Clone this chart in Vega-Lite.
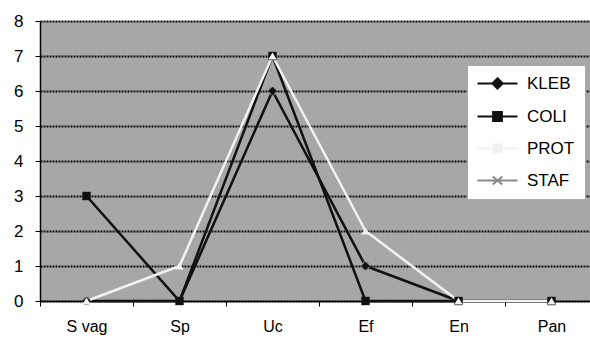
{
  "$schema": "https://vega.github.io/schema/vega-lite/v6.json",
  "width": 550,
  "height": 280,
  "autosize": "none",
  "padding": {"left": 40, "top": 21, "right": 0, "bottom": 43},
  "background": "white",
  "config": {
    "view": {"fill": "#a7a7a7", "stroke": null},
    "font": "Liberation Sans"
  },
  "data": {
    "values": [
      {"cat": "S vag", "series": "STAF", "value": 0},
      {"cat": "Sp", "series": "STAF", "value": 0},
      {"cat": "Uc", "series": "STAF", "value": 6},
      {"cat": "Ef", "series": "STAF", "value": 1},
      {"cat": "En", "series": "STAF", "value": 0},
      {"cat": "Pan", "series": "STAF", "value": 0},
      {"cat": "S vag", "series": "KLEB", "value": 0},
      {"cat": "Sp", "series": "KLEB", "value": 0},
      {"cat": "Uc", "series": "KLEB", "value": 6},
      {"cat": "Ef", "series": "KLEB", "value": 1},
      {"cat": "En", "series": "KLEB", "value": 0},
      {"cat": "Pan", "series": "KLEB", "value": 0},
      {"cat": "S vag", "series": "COLI", "value": 3},
      {"cat": "Sp", "series": "COLI", "value": 0},
      {"cat": "Uc", "series": "COLI", "value": 7},
      {"cat": "Ef", "series": "COLI", "value": 0},
      {"cat": "En", "series": "COLI", "value": 0},
      {"cat": "Pan", "series": "COLI", "value": 0},
      {"cat": "S vag", "series": "PROT", "value": 0},
      {"cat": "Sp", "series": "PROT", "value": 1},
      {"cat": "Uc", "series": "PROT", "value": 7},
      {"cat": "Ef", "series": "PROT", "value": 2},
      {"cat": "En", "series": "PROT", "value": 0},
      {"cat": "Pan", "series": "PROT", "value": 0}
    ]
  },
  "encoding": {
    "x": {
      "field": "cat",
      "type": "nominal",
      "sort": ["S vag", "Sp", "Uc", "Ef", "En", "Pan"],
      "scale": {"type": "band", "range": [0, 558], "paddingInner": 0, "paddingOuter": 0},
      "axis": {
        "title": null,
        "labelAngle": 0,
        "labelFontSize": 16,
        "labelColor": "black",
        "tickColor": "black",
        "tickSize": 5,
        "tickBand": "extent",
        "domainColor": "black",
        "domainWidth": 1.5,
        "grid": false,
        "labelPadding": 12
      }
    },
    "y": {
      "field": "value",
      "type": "quantitative",
      "scale": {"domain": [0, 8], "nice": false},
      "axis": {
        "title": null,
        "values": [0, 1, 2, 3, 4, 5, 6, 7, 8],
        "labelFontSize": 17,
        "labelColor": "black",
        "grid": true,
        "gridColor": "#111111",
        "gridWidth": 2,
        "gridDash": [2, 1],
        "gridOpacity": 1,
        "domainColor": "black",
        "domainWidth": 1.5,
        "tickColor": "black",
        "tickSize": 5,
        "labelPadding": 12
      }
    },
    "color": {
      "field": "series",
      "type": "nominal",
      "scale": {"domain": ["KLEB", "COLI", "PROT", "STAF"], "range": ["#111111", "#111111", "#f2f2f2", "#8a8a8a"]},
      "legend": {
        "orient": "none",
        "legendX": 427,
        "legendY": 44,
        "title": null,
        "fillColor": "white",
        "strokeColor": "#aaaaaa",
        "padding": 10,
        "labelFontSize": 17,
        "labelColor": "black",
        "symbolSize": 64,
        "symbolOffset": 12,
        "labelOffset": 21,
        "rowPadding": 14,
        "symbolStrokeWidth": 2,
        "encode": {
          "symbols": {
            "update": {
              "stroke": {"signal": "datum.value === 'PROT' ? '#d8d8d8' : scale('color', datum.value)"},
              "fill": {"signal": "datum.value === 'PROT' ? '#d8d8d8' : scale('color', datum.value)"},
              "strokeWidth": {"value": 2},
              "opacity": {"value": 1}
            }
          }
        }
      }
    }
  },
  "layer": [
    {
      "mark": {"type": "line", "strokeWidth": 2.5},
      "encoding": {}
    },
    {
      "transform": [{"filter": "datum.series === 'STAF'"}],
      "mark": {"type": "point", "filled": true, "size": 70, "opacity": 1, "shape": "cross", "angle": 45},
      "encoding": {}
    },
    {
      "transform": [{"filter": "datum.series === 'KLEB'"}],
      "mark": {"type": "point", "filled": true, "size": 70, "opacity": 1, "shape": "diamond"},
      "encoding": {}
    },
    {
      "transform": [{"filter": "datum.series === 'COLI'"}],
      "mark": {"type": "point", "filled": true, "size": 70, "opacity": 1, "shape": "square"},
      "encoding": {}
    },
    {
      "transform": [{"filter": "datum.series === 'PROT'"}],
      "mark": {"type": "point", "filled": true, "size": 70, "opacity": 1, "shape": "triangle-up"},
      "encoding": {}
    },
    {
      "transform": [{"filter": "false"}],
      "mark": {"type": "point", "filled": true, "opacity": 1},
      "encoding": {
        "shape": {
          "field": "series",
          "type": "nominal",
          "scale": {
            "domain": ["KLEB", "COLI", "PROT", "STAF"],
            "range": [
              "M-5,0H5M0,-1.3L1.3,0L0,1.3L-1.3,0Z",
              "M-5,0H5M-1.1,-1.1H1.1V1.1H-1.1Z",
              "M-5,0H5M-1,-1H1V1H-1Z",
              "M-5,0H5M-1.2,-1L1.2,1M-1.2,1L1.2,-1"
            ]
          }
        }
      }
    }
  ]
}
